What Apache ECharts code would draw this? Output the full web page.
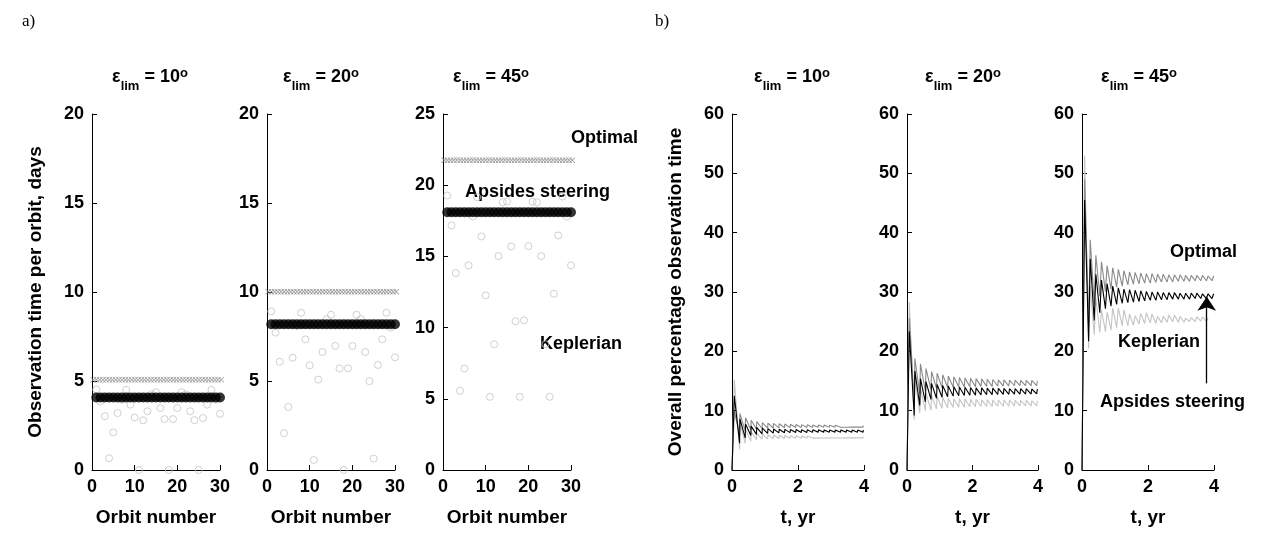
<!DOCTYPE html>
<html><head><meta charset="utf-8">
<script src="https://cdn.jsdelivr.net/npm/echarts@6/dist/echarts.min.js"></script>
<style>html,body{margin:0;padding:0;background:#fff}#c{width:1267px;height:535px}</style>
</head><body><div id="c"></div>
<script>
// ---------- data: panel a (observation time per orbit, days) ----------
const orbits = [1,2,3,4,5,6,7,8,9,10,11,12,13,14,15,16,17,18,19,20,21,22,23,24,25,26,27,28,29,30];
const optimalOrbitX = [0.3,1.05,1.8,2.55,3.3,4.05,4.8,5.55,6.3,7.05,7.8,8.55,9.3,10.05,10.8,11.55,12.3,13.05,13.8,14.55,15.3,16.05,16.8,17.55,18.3,19.05,19.8,20.55,21.3,22.05,22.8,23.55,24.3,25.05,25.8,26.55,27.3,28.05,28.8,29.55,30.3];
const optimalA10 = [5.07,5.07,5.07,5.07,5.07,5.07,5.07,5.07,5.07,5.07,5.07,5.07,5.07,5.07,5.07,5.07,5.07,5.07,5.07,5.07,5.07,5.07,5.07,5.07,5.07,5.07,5.07,5.07,5.07,5.07,5.07,5.07,5.07,5.07,5.07,5.07,5.07,5.07,5.07,5.07,5.07];
const optimalA20 = [10.02,10.02,10.02,10.02,10.02,10.02,10.02,10.02,10.02,10.02,10.02,10.02,10.02,10.02,10.02,10.02,10.02,10.02,10.02,10.02,10.02,10.02,10.02,10.02,10.02,10.02,10.02,10.02,10.02,10.02,10.02,10.02,10.02,10.02,10.02,10.02,10.02,10.02,10.02,10.02,10.02];
const optimalA45 = [21.76,21.76,21.76,21.76,21.76,21.76,21.76,21.76,21.76,21.76,21.76,21.76,21.76,21.76,21.76,21.76,21.76,21.76,21.76,21.76,21.76,21.76,21.76,21.76,21.76,21.76,21.76,21.76,21.76,21.76,21.76,21.76,21.76,21.76,21.76,21.76,21.76,21.76,21.76,21.76,21.76];
const apsidesA10 = [4.07,4.07,4.07,4.07,4.07,4.07,4.07,4.07,4.07,4.07,4.07,4.07,4.07,4.07,4.07,4.07,4.07,4.07,4.07,4.07,4.07,4.07,4.07,4.07,4.07,4.07,4.07,4.07,4.07,4.07];
const apsidesA20 = [8.19,8.19,8.19,8.19,8.19,8.19,8.19,8.19,8.19,8.19,8.19,8.19,8.19,8.19,8.19,8.19,8.19,8.19,8.19,8.19,8.19,8.19,8.19,8.19,8.19,8.19,8.19,8.19,8.19,8.19];
const apsidesA45 = [18.1,18.1,18.1,18.1,18.1,18.1,18.1,18.1,18.1,18.1,18.1,18.1,18.1,18.1,18.1,18.1,18.1,18.1,18.1,18.1,18.1,18.1,18.1,18.1,18.1,18.1,18.1,18.1,18.1,18.1];
const keplerA10 = [4.52,3.86,3.02,0.66,2.11,3.2,3.95,4.5,3.67,2.95,0,2.79,3.3,4.26,4.37,3.48,2.86,0,2.86,3.48,4.37,4.26,3.3,2.8,0,2.92,3.67,4.5,3.95,3.16];
const keplerA20 = [8.91,7.72,6.08,2.07,3.54,6.31,8.1,8.83,7.34,5.88,0.56,5.08,6.63,8.47,8.72,6.97,5.71,0,5.71,6.97,8.72,8.47,6.63,4.99,0.64,5.9,7.34,8.83,8.0,6.33];
const keplerA45 = [19.27,17.17,13.83,5.56,7.13,14.37,17.8,19.16,16.4,12.26,5.14,8.83,15.02,18.8,18.85,15.7,10.44,5.14,10.51,15.72,18.85,18.8,15.02,8.83,5.14,12.38,16.47,19.2,17.8,14.37];

// ---------- data: panel b (overall percentage observation time vs t, yr) ----------
const tB10 = [0,0.03,0.07,0.23,0.24,0.40,0.41,0.57,0.58,0.74,0.75,0.91,0.92,1.08,1.09,1.25,1.26,1.42,1.43,1.59,1.60,1.76,1.77,1.93,1.94,2.10,2.11,2.27,2.28,2.44,2.45,2.61,2.62,2.78,2.79,2.95,2.96,3.12,3.13,3.29,3.30,3.46,3.47,3.63,3.64,3.80,3.81,3.97,3.98];
const optimalB10 = [0,0,9.9, 6.0,9.5, 6.6,8.8, 6.8,8.4, 6.9,8.15, 7.0,8.0, 7.05,7.9, 7.08,7.85, 7.1,7.8, 7.12,7.75, 7.14,7.7, 7.15,7.68, 7.16,7.65, 7.17,7.63, 7.18,7.6, 7.19,7.6, 7.2,7.58, 7.2,7.56, 7.2,7.55, 7.21,7.54, 7.21,7.53, 7.22,7.52, 7.22,7.51, 7.22,7.5];
const apsidesB10 = [0,0,12.5, 4.5,8.6, 5.4,7.75, 5.8,7.4, 6.0,7.2, 6.1,7.07, 6.17,6.98, 6.22,6.92, 6.25,6.88, 6.28,6.85, 6.3,6.83, 6.31,6.81, 6.32,6.8, 6.33,6.79, 6.34,6.78, 6.35,6.77, 6.35,6.76, 6.36,6.76, 6.36,6.75, 6.37,6.75, 6.37,6.75, 6.37,6.74, 6.38,6.74, 6.38,6.74];
const keplerB10 = [0,0,15.2, 3.5,8.0, 4.5,6.9, 4.9,6.5, 5.1,6.2, 5.2,6.05, 5.25,5.95, 5.28,5.9, 5.3,5.85, 5.32,5.8, 5.34,5.78, 5.35,5.76, 5.36,5.74, 5.37,5.72, 5.38,5.7, 5.38,5.7, 5.39,5.68, 5.4,5.67, 5.4,5.66, 5.4,5.65, 5.41,5.65, 5.41,5.64, 5.41,5.64, 5.42,5.63];

const tB20 = [0,0.03,0.07,0.22,0.24,0.39,0.41,0.56,0.58,0.73,0.75,0.90,0.92,1.07,1.09,1.24,1.26,1.41,1.43,1.58,1.60,1.75,1.77,1.92,1.94,2.09,2.11,2.26,2.28,2.43,2.45,2.60,2.62,2.77,2.79,2.94,2.96,3.11,3.13,3.28,3.30,3.45,3.47,3.62,3.64,3.79,3.81,3.96,3.98];
const optimalB20 = [0,0,25.6, 11.5,18.8, 12.8,17.9, 13.3,17.1, 13.6,16.6, 13.75,16.3, 13.85,16.05, 13.9,15.85, 13.95,15.7, 14.0,15.6, 14.0,15.5, 14.05,15.45, 14.05,15.4, 14.1,15.35, 14.1,15.3, 14.1,15.25, 14.15,15.2, 14.15,15.2, 14.15,15.15, 14.2,15.15, 14.2,15.1, 14.2,15.1, 14.2,15.1, 14.2,15.05];
const apsidesB20 = [0,0,23.4, 9.2,16.7, 10.9,15.4, 11.5,14.9, 11.9,14.6, 12.1,14.4, 12.25,14.25, 12.35,14.15, 12.45,14.05, 12.5,14.0, 12.55,13.95, 12.6,13.9, 12.62,13.85, 12.65,13.85, 12.68,13.8, 12.7,13.8, 12.72,13.75, 12.74,13.75, 12.76,13.7, 12.78,13.7, 12.8,13.7, 12.8,13.7, 12.8,13.65, 12.82,13.65];
const keplerB20 = [0,0,28.3, 8.5,15.5, 9.6,13.8, 10.0,13.0, 10.1,12.6, 10.3,12.4, 10.4,12.2, 10.5,12.1, 10.55,12.0, 10.6,12.0, 10.6,11.95, 10.65,11.9, 10.65,11.9, 10.7,11.85, 10.7,11.85, 10.7,11.8, 10.75,11.8, 10.75,11.8, 10.75,11.8, 10.8,11.75, 10.8,11.75, 10.8,11.75, 10.8,11.7, 10.8,11.7];

const tB45 = [0,0.03,0.08,0.20,0.25,0.37,0.42,0.54,0.59,0.71,0.76,0.88,0.93,1.05,1.10,1.22,1.27,1.39,1.44,1.56,1.61,1.73,1.78,1.90,1.95,2.07,2.12,2.24,2.29,2.41,2.46,2.58,2.63,2.75,2.80,2.92,2.97,3.09,3.14,3.26,3.31,3.43,3.48,3.60,3.65,3.77,3.82,3.94,3.99];
const optimalB45 = [0,0,49.0, 24.3,38.8, 28.0,36.2, 29.3,35.1, 30.1,34.4, 30.5,34.1, 30.8,33.8, 31.0,33.6, 31.2,33.4, 31.3,33.3, 31.4,33.2, 31.5,33.1, 31.5,33.1, 31.6,33.0, 31.7,33.0, 31.7,32.9, 31.7,32.9, 31.8,32.9, 31.8,32.8, 31.8,32.8, 31.9,32.8, 31.9,32.8, 31.9,32.7, 31.9,32.7];
const apsidesB45 = [0,0,45.5, 21.7,35.6, 25.2,33.0, 26.5,32.0, 27.2,31.4, 27.6,31.0, 27.9,30.7, 28.1,30.5, 28.2,30.4, 28.3,30.3, 28.4,30.2, 28.5,30.1, 28.6,30.0, 28.6,30.0, 28.7,29.9, 28.7,29.9, 28.8,29.9, 28.8,29.8, 28.8,29.8, 28.8,29.8, 28.9,29.8, 28.9,29.7, 28.9,29.7, 28.9,29.7];
const keplerB45 = [0,0,53.0, 20.5,31.0, 22.8,29.0, 23.2,27.0, 23.3,26.6, 23.6,27.3, 24.0,27.3, 24.3,27.0, 24.3,26.3, 24.4,26.0, 24.6,26.4, 24.7,26.5, 24.8,26.3, 24.7,25.9, 24.8,25.9, 24.9,26.1, 25.0,26.1, 24.9,25.9, 24.9,25.6, 25.0,25.7, 25.0,25.8, 25.1,25.8, 25.0,25.6];

const titleAngles = ['10', '20', '45'];
const yTicksA = [20, 20, 25];

// ---------- styling / layout ----------
const FONT = '"Liberation Sans", Arial, Helvetica, sans-serif';
const C_KEP = '#c4c4c4', C_OPT = '#8a8a8a', C_APS = '#000000';
const gridsPx = [
  {left: 92, width: 128}, {left: 267, width: 128}, {left: 443, width: 128},
  {left: 732, width: 132}, {left: 907, width: 131}, {left: 1082, width: 132}
];
const titleCenters = [150, 321, 491, 792, 963, 1139];

const zip = (xs, ys) => xs.map((x, i) => [x, ys[i]]);
const crossPath = 'path://M0 1 L1 0 L5 4 L9 0 L10 1 L6 5 L10 9 L9 10 L5 6 L1 10 L0 9 L4 5 Z';

function axisBase(extra) {
  return Object.assign({
    type: 'value',
    axisLine: {show: true, onZero: false, lineStyle: {color: '#000', width: 1}},
    axisTick: {show: true, inside: true, length: 5, lineStyle: {color: '#000', width: 1}},
    axisLabel: {color: '#000', fontSize: 18, fontWeight: 'bold', fontFamily: FONT, margin: 8},
    splitLine: {show: false},
    nameTextStyle: {color: '#000', fontSize: 19, fontWeight: 'bold', fontFamily: FONT}
  }, extra);
}

const grid = gridsPx.map(g => ({left: g.left, width: g.width, top: 114, height: 356, containLabel: false}));
const xAxis = [], yAxis = [], series = [];
for (let i = 0; i < 3; i++) {
  xAxis.push(axisBase({gridIndex: i, min: 0, max: 30, interval: 10, name: 'Orbit number', nameLocation: 'middle', nameGap: 38}));
  yAxis.push(axisBase({gridIndex: i, min: 0, max: yTicksA[i], interval: 5,
    name: i === 0 ? 'Observation time per orbit, days' : '', nameLocation: 'middle', nameGap: 47}));
}
for (let i = 0; i < 3; i++) {
  xAxis.push(axisBase({gridIndex: 3 + i, min: 0, max: 4, interval: 2, name: 't, yr', nameLocation: 'middle', nameGap: 38}));
  yAxis.push(axisBase({gridIndex: 3 + i, min: 0, max: 60, interval: 10,
    name: i === 0 ? 'Overall percentage observation time' : '', nameLocation: 'middle', nameGap: 47}));
}

const kepA = [keplerA10, keplerA20, keplerA45];
const apsA = [apsidesA10, apsidesA20, apsidesA45];
const optA = [optimalA10, optimalA20, optimalA45];
for (let i = 0; i < 3; i++) {
  series.push({type: 'scatter', xAxisIndex: i, yAxisIndex: i, data: zip(orbits, kepA[i]), clip: false,
    symbol: 'circle', symbolSize: 7, itemStyle: {color: 'rgba(255,255,255,0)', borderColor: C_KEP, borderWidth: 1}, z: 2});
  series.push({type: 'scatter', xAxisIndex: i, yAxisIndex: i, data: zip(optimalOrbitX, optA[i]), clip: false,
    symbol: crossPath, symbolSize: 6, itemStyle: {color: C_OPT}, z: 3});
  series.push({type: 'scatter', xAxisIndex: i, yAxisIndex: i, data: zip(orbits, apsA[i]), clip: false,
    symbol: 'circle', symbolSize: 10, itemStyle: {color: C_APS}, z: 4});
}
const tB = [tB10, tB20, tB45];
const kepB = [keplerB10, keplerB20, keplerB45];
const optB = [optimalB10, optimalB20, optimalB45];
const apsB = [apsidesB10, apsidesB20, apsidesB45];
for (let i = 0; i < 3; i++) {
  const k = 3 + i;
  series.push({type: 'line', xAxisIndex: k, yAxisIndex: k, data: zip(tB[i], kepB[i]), showSymbol: false, symbol: 'none',
    lineStyle: {color: C_KEP, width: 1.1}, z: 2});
  series.push({type: 'line', xAxisIndex: k, yAxisIndex: k, data: zip(tB[i], optB[i]), showSymbol: false, symbol: 'none',
    lineStyle: {color: C_OPT, width: 1.1}, z: 3});
  const s = {type: 'line', xAxisIndex: k, yAxisIndex: k, data: zip(tB[i], apsB[i]), showSymbol: false, symbol: 'none',
    lineStyle: {color: C_APS, width: 1.1}, z: 4};
  if (i === 2) {
    s.markLine = {silent: true, symbol: ['none', 'arrow'], symbolSize: 14, label: {show: false},
      lineStyle: {color: '#000', width: 1.3, type: 'solid'},
      data: [[{coord: [3.78, 14.6]}, {coord: [3.78, 29.2]}]]};
  }
  series.push(s);
}

const rich = {
  e: {fontSize: 18, fontWeight: 'bold', fontFamily: FONT, color: '#000', verticalAlign: 'top', lineHeight: 20, padding: [4, 0, 0, 0]},
  m: {fontSize: 18, fontWeight: 'bold', fontFamily: FONT, color: '#000', verticalAlign: 'top', lineHeight: 20, padding: [4, 0, 0, 0]},
  s: {fontSize: 13, fontWeight: 'bold', fontFamily: FONT, color: '#000', verticalAlign: 'top', lineHeight: 14, padding: [16, 0, 0, 0]},
  o: {fontSize: 13, fontWeight: 'bold', fontFamily: FONT, color: '#000', verticalAlign: 'top', lineHeight: 14, padding: [3, 0, 0, 0]}
};
const title = titleCenters.map((cx, i) => ({
  text: '{e|ε}{s|lim}{m| = ' + titleAngles[i % 3] + '}{o|o}',
  left: cx, top: 64, textAlign: 'center', padding: 0,
  textStyle: {rich: rich}
}));

function txt(x, y, t, font, align) {
  return {type: 'text', x: x, y: y, silent: true,
    style: {text: t, font: font, fill: '#000', textAlign: align || 'left', align: align || 'left',
      textVerticalAlign: 'middle', verticalAlign: 'middle'}};
}
const BF = 'bold 18px ' + FONT;
const SF = '17px "Liberation Serif", "Times New Roman", serif';
const graphic = [
  txt(22, 22, 'a)', SF), txt(655, 22, 'b)', SF),
  txt(571, 138, 'Optimal', BF), txt(465, 192, 'Apsides steering', BF), txt(540, 344, 'Keplerian', BF),
  txt(1170, 252, 'Optimal', BF), txt(1118, 342, 'Keplerian', BF), txt(1100, 402, 'Apsides steering', BF)
];

const chart = echarts.init(document.getElementById('c'), null, {renderer: 'canvas'});
chart.setOption({animation: false, backgroundColor: '#fff', title, grid, xAxis, yAxis, series, graphic});
</script></body></html>
